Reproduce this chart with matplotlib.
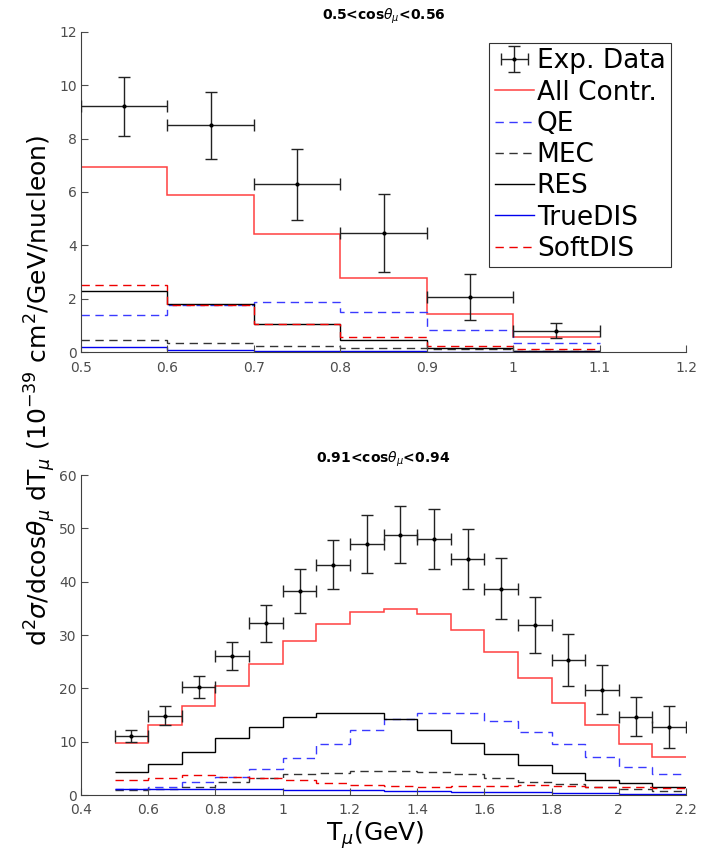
import numpy as np
import matplotlib.pyplot as plt

# --- top panel: 0.5 < cos(theta_mu) < 0.56 ---
top_edges = [0.5, 0.6, 0.7, 0.8, 0.9, 1.0, 1.1]
top_data = [9.21, 8.50, 6.29, 4.45, 2.08, 0.81]
top_err_hi = [1.10, 1.24, 1.32, 1.49, 0.86, 0.29]
top_err_lo = [1.12, 1.26, 1.35, 1.44, 0.86, 0.26]
top_all = [6.92, 5.89, 4.42, 2.79, 1.43, 0.56]
top_qe = [1.40, 1.78, 1.88, 1.51, 0.84, 0.35]
top_mec = [0.44, 0.34, 0.23, 0.14, 0.12, 0.04]
top_res = [2.31, 1.79, 1.04, 0.44, 0.15, 0.06]
top_truedis = [0.19, 0.09, 0.05, 0.03, 0.01, 0.01]
top_softdis = [2.53, 1.75, 1.07, 0.56, 0.25, 0.13]

# --- bottom panel: 0.91 < cos(theta_mu) < 0.94 ---
bot_edges = [0.5, 0.6, 0.7, 0.8, 0.9, 1.0, 1.1, 1.2, 1.3, 1.4, 1.5,
             1.6, 1.7, 1.8, 1.9, 2.0, 2.1, 2.2]
bot_data = [11.0, 14.9, 20.3, 26.0, 32.2, 38.2, 43.2, 47.0, 48.8, 48.0,
            44.3, 38.7, 31.8, 25.3, 19.7, 14.7, 12.7]
bot_err = [1.1, 1.7, 2.1, 2.65, 3.5, 4.1, 4.6, 5.45, 5.35, 5.55,
           5.65, 5.75, 5.25, 4.85, 4.6, 3.65, 3.9]
bot_all = [9.8, 13.1, 16.6, 20.5, 24.6, 28.8, 32.1, 34.4, 34.9, 33.9,
           30.9, 26.75, 22.0, 17.25, 13.1, 9.6, 7.06]
bot_qe = [1.06, 1.56, 2.4, 3.4, 4.9, 7.0, 9.6, 12.2, 14.2, 15.3,
          15.3, 13.9, 11.8, 9.5, 7.06, 5.25, 3.9]
bot_mec = [0.94, 1.2, 1.56, 2.4, 3.2, 3.9, 4.2, 4.5, 4.5, 4.4,
           3.9, 3.2, 2.5, 2.06, 1.56, 1.06, 0.7]
bot_res = [4.3, 5.9, 8.1, 10.6, 12.7, 14.6, 15.4, 15.3, 14.2, 12.2,
           9.75, 7.6, 5.56, 4.2, 2.9, 2.2, 1.44]
bot_truedis = [1.06, 1.06, 1.06, 1.06, 1.06, 0.88, 0.88, 0.88, 0.7, 0.7,
               0.5, 0.5, 0.5, 0.3, 0.3, 0.2, 0.2]
bot_softdis = [2.75, 3.25, 3.7, 3.4, 3.1, 2.9, 2.3, 1.9, 1.7, 1.56,
               1.6, 1.7, 1.8, 1.7, 1.5, 1.5, 1.4]

DASH = (0, (6, 4))
TICK_GRAY = '#4d4d4d'


def draw_panel(ax, edges, data, err_lo, err_hi, comps, title, xlim, xticks, ylim, yticks):
    edges = np.asarray(edges)
    centers = 0.5 * (edges[:-1] + edges[1:])
    half = 0.5 * np.diff(edges)
    ax.errorbar(centers, data, xerr=half, yerr=[err_lo, err_hi], fmt='.',
                color='k', ecolor='#222222', ms=4, elinewidth=1, capsize=4,
                capthick=1, label='Exp. Data', zorder=5)
    all_c, qe, mec, res, tdis, sdis = comps
    ax.stairs(all_c, edges, color='#ff4040', lw=1.1, label='All Contr.', baseline=None)
    ax.stairs(qe, edges, color='#3a3aff', lw=1.0, ls=DASH, label='QE', baseline=None)
    ax.stairs(mec, edges, color='#333333', lw=1.0, ls=DASH, label='MEC', baseline=None)
    ax.stairs(res, edges, color='k', lw=1.0, label='RES', baseline=None)
    ax.stairs(tdis, edges, color='#0000ee', lw=1.0, label='TrueDIS', baseline=None)
    ax.stairs(sdis, edges, color='#ee0000', lw=1.0, ls=DASH, label='SoftDIS', baseline=None)

    ax.set_xlim(*xlim)
    ax.set_ylim(*ylim)
    ax.set_xticks(xticks)
    ax.set_xticklabels([f'{t:g}' for t in xticks])
    ax.set_yticks(yticks)
    ax.set_title(title, fontsize=10, fontweight='bold', pad=9)
    for s in ('top', 'right'):
        ax.spines[s].set_visible(False)
    for s in ('left', 'bottom'):
        ax.spines[s].set_color('#404040')
        ax.spines[s].set_linewidth(0.8)
    ax.tick_params(direction='in', length=5, width=0.8, colors=TICK_GRAY,
                   labelsize=10)
    ax.tick_params(axis='x', pad=6)
    ax.tick_params(axis='y', pad=3)


fig = plt.figure(figsize=(7.05, 8.59), dpi=100)
ax1 = fig.add_axes([0.115, 0.590, 0.858, 0.373])
ax2 = fig.add_axes([0.115, 0.0745, 0.858, 0.3725])

top_comps = (top_all, top_qe, top_mec, top_res, top_truedis, top_softdis)
bot_comps = (bot_all, bot_qe, bot_mec, bot_res, bot_truedis, bot_softdis)

draw_panel(ax1, top_edges, top_data, top_err_lo, top_err_hi, top_comps,
           r'0.5<cos$\theta_\mu$<0.56', (0.5, 1.2), np.round(np.arange(0.5, 1.21, 0.1), 1),
           (0, 12), np.arange(0, 13, 2))
draw_panel(ax2, bot_edges, bot_data, bot_err, bot_err, bot_comps,
           r'0.91<cos$\theta_\mu$<0.94', (0.4, 2.2), np.round(np.arange(0.4, 2.21, 0.2), 1),
           (0, 60), np.arange(0, 61, 10))

# legend order as in the original: data first, then the model curves
handles, labels = ax1.get_legend_handles_labels()
order = [labels.index(n) for n in
         ['Exp. Data', 'All Contr.', 'QE', 'MEC', 'RES', 'TrueDIS', 'SoftDIS']]
leg = ax1.legend([handles[i] for i in order], [labels[i] for i in order],
                 loc='upper right', bbox_to_anchor=(0.975, 0.965), fontsize=19,
                 frameon=True, fancybox=False, framealpha=1, edgecolor='#333333',
                 handlelength=1.5, handletextpad=0.1, labelspacing=0.2,
                 borderpad=0.2, borderaxespad=0.0)
leg.get_frame().set_linewidth(0.8)

fig.text(0.057, 0.545,
         r'd$^2\sigma$/dcos$\theta_\mu$ dT$_\mu$ (10$^{-39}$ cm$^2$/GeV/nucleon)',
         rotation=90, ha='center', va='center', fontsize=18)
fig.text(0.532, 0.021, r'T$_\mu$(GeV)', ha='center', va='baseline', fontsize=18)

fig.savefig('out.png', dpi=100)
